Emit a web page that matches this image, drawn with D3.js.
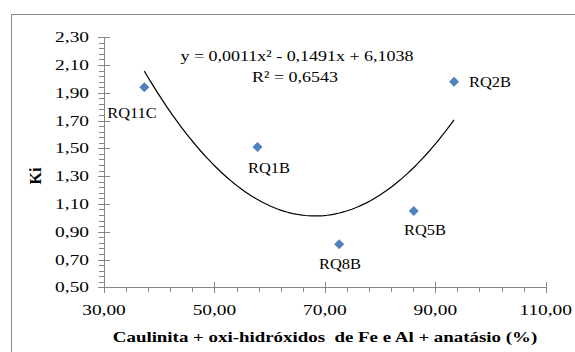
<!DOCTYPE html>
<html><head><meta charset="utf-8">
<script src="https://cdn.jsdelivr.net/npm/d3@7"></script>
<style>
html,body{margin:0;padding:0;background:#fff;}
text{font-family:"Liberation Serif","DejaVu Serif",serif;}
</style></head>
<body><svg id="c" width="575" height="352"></svg>
<script>
const names = ["RQ11C","RQ1B","RQ2B","RQ5B","RQ8B"];
const xVals = [37.3, 57.8, 93.4, 86.1, 72.6];
const yVals = [1.94, 1.51, 1.98, 1.05, 0.81];
const xTicks = [30,50,70,90,110];
const yTicks = [0.5,0.7,0.9,1.1,1.3,1.5,1.7,1.9,2.1,2.3];
const equationText = "y = 0,0011x² - 0,1491x + 6,1038";
const r2Text = "R² = 0,6543";
const xTitle = "Caulinita + oxi-hidróxidos  de Fe e Al + anatásio (%)";
const yTitle = "Ki";

const FONT = "Liberation Serif";
const svg = d3.select("#c");
svg.append("rect").attr("x",11.5).attr("y",14.5).attr("width",600).attr("height",400)
  .attr("fill","#fff").attr("stroke","#868686").attr("stroke-width",1);

const x = d3.scaleLinear().domain([30,110]).range([104,545.7]);
const y = d3.scaleLinear().domain([0.5,2.3]).range([287.3,37.2]);
const fmt = v => d3.format(".2f")(v).replace(".",",");
const axisColor = "#868686";

const g = svg.append("g");
const xMinor = d3.range(30,110.01,4).filter(v=>!xTicks.includes(v));
g.selectAll(".xm").data(xMinor).enter().append("line")
  .attr("x1",d=>Math.round(x(d))+0.5).attr("x2",d=>Math.round(x(d))+0.5)
  .attr("y1",287.5).attr("y2",292).attr("stroke",axisColor);
const yMinor = d3.range(0,45).map(i=>0.5+i*0.04).filter(v=>!yTicks.some(t=>Math.abs(t-v)<1e-6));
g.selectAll(".ym").data(yMinor).enter().append("line")
  .attr("y1",d=>Math.round(y(d))+0.5).attr("y2",d=>Math.round(y(d))+0.5)
  .attr("x1",99).attr("x2",104).attr("stroke",axisColor);
g.selectAll(".xM").data(xTicks).enter().append("line")
  .attr("x1",d=>Math.round(x(d))+0.5).attr("x2",d=>Math.round(x(d))+0.5)
  .attr("y1",282).attr("y2",293).attr("stroke",axisColor);
g.selectAll(".yM").data(yTicks).enter().append("line")
  .attr("y1",d=>Math.round(y(d))+0.5).attr("y2",d=>Math.round(y(d))+0.5)
  .attr("x1",98).attr("x2",110).attr("stroke",axisColor);
g.append("line").attr("x1",104.5).attr("x2",104.5).attr("y1",y(2.3)).attr("y2",287.5).attr("stroke",axisColor);
g.append("line").attr("x1",104).attr("x2",x(110)+0.5).attr("y1",287.5).attr("y2",287.5).attr("stroke",axisColor);

function stext(sel, tx, ty, str, anchor, size, sx, weight){
  const t = sel.append("text").attr("transform",`translate(${tx},${ty}) scale(${sx},1)`)
    .attr("text-anchor",anchor).attr("font-size",size).attr("font-family",FONT).attr("fill","#000").text(str);
  if(weight) t.attr("font-weight",weight);
  return t;
}
xTicks.forEach(v=>stext(svg, x(v), 315, fmt(v), "middle", 15.5, 1.25));
yTicks.forEach(v=>stext(svg, 89, y(v)+5, fmt(v), "end", 15.5, 1.25));

stext(svg, 325, 342, xTitle, "middle", 15.5, 1.22, "bold").attr("xml:space","preserve").style("white-space","pre");
svg.append("text").attr("transform","translate(41,176) rotate(-90)").attr("text-anchor","middle")
  .attr("font-size",16).attr("font-family",FONT).attr("font-weight","bold").text(yTitle);

function quadFit(xs, ys){
  let S=[0,0,0,0,0], T=[0,0,0];
  xs.forEach((xi,i)=>{ for(let k=0;k<5;k++) S[k]+=Math.pow(xi,k); for(let k=0;k<3;k++) T[k]+=ys[i]*Math.pow(xi,k); });
  const A=[[S[0],S[1],S[2],T[0]],[S[1],S[2],S[3],T[1]],[S[2],S[3],S[4],T[2]]];
  for(let i=0;i<3;i++){ for(let j=i+1;j<3;j++){ const f=A[j][i]/A[i][i]; for(let k=i;k<4;k++) A[j][k]-=f*A[i][k]; } }
  const c=[0,0,0];
  for(let i=2;i>=0;i--){ let s=A[i][3]; for(let k=i+1;k<3;k++) s-=A[i][k]*c[k]; c[i]=s/A[i][i]; }
  return c;
}
const coef = quadFit(xVals, yVals);
const xmin=d3.min(xVals), xmax=d3.max(xVals);
const curve = d3.range(0,101).map(i=>{const xv=xmin+(xmax-xmin)*i/100; return [xv, coef[0]+coef[1]*xv+coef[2]*xv*xv];});
svg.append("path").attr("d",d3.line().x(d=>x(d[0])).y(d=>y(d[1]))(curve))
  .attr("fill","none").attr("stroke","#000").attr("stroke-width",1.2);

const pts = names.map((n,i)=>({n, xv:xVals[i], yv:yVals[i]}));
svg.selectAll(".pt").data(pts).enter().append("path")
  .attr("d",d3.symbol(d3.symbolSquare, 50)())
  .attr("transform",d=>`translate(${x(d.xv)},${y(d.yv)}) rotate(45)`)
  .attr("fill","#4F81BD");

const labelPos = {RQ11C:[132,118], RQ1B:[269,173], RQ2B:[490,87], RQ5B:[425,235], RQ8B:[340,269]};
pts.forEach(d=>stext(svg, labelPos[d.n][0], labelPos[d.n][1], d.n, "middle", 15.5, 1.06));

stext(svg, 297, 61, equationText, "middle", 15.5, 1.16);
stext(svg, 295, 82, r2Text, "middle", 15.5, 1.16);
</script></body></html>
